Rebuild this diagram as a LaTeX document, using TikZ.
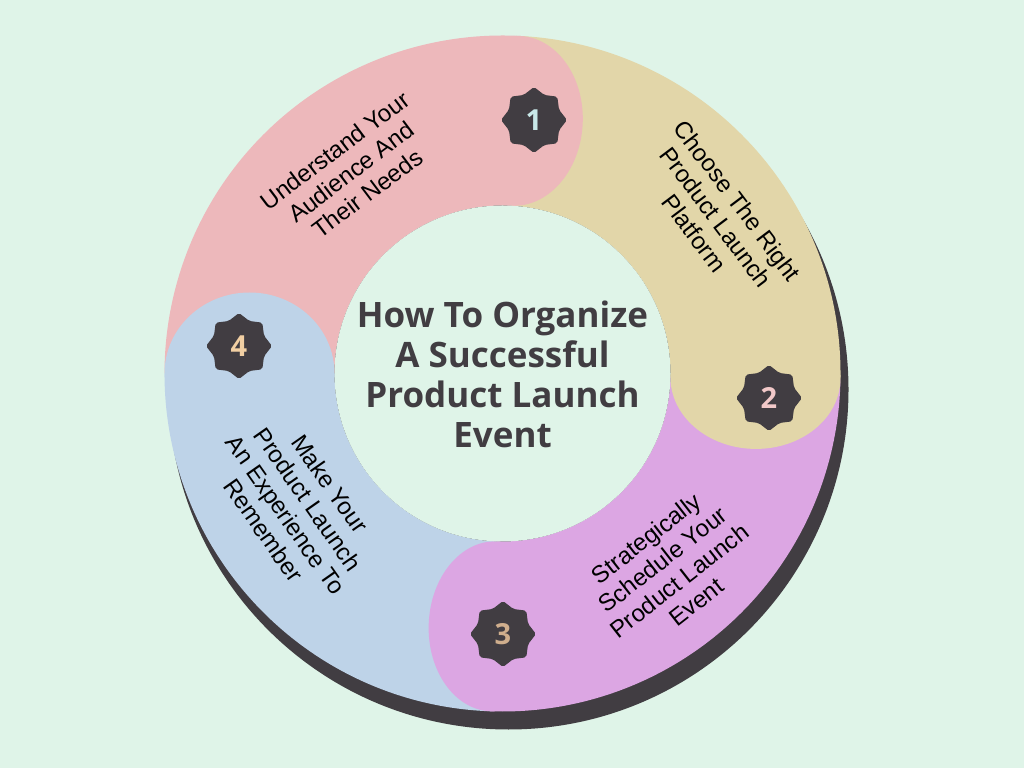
\documentclass[tikz,border=0pt]{standalone}
\usepackage{fontspec}
\setmainfont{Liberation Sans}
\newfontfamily\titlefont{Open Sans}
\usetikzlibrary{shapes.geometric}

\definecolor{bgmint}{HTML}{DFF4E8}
\definecolor{shadowgray}{HTML}{413D42}
\definecolor{pinkseg}{HTML}{EDB8BB}
\definecolor{tanseg}{HTML}{E2D6A9}
\definecolor{violetseg}{HTML}{DCA6E3}
\definecolor{blueseg}{HTML}{BED3E8}
\definecolor{numone}{HTML}{C8E8E8}
\definecolor{numtwo}{HTML}{F2C9C9}
\definecolor{numthree}{HTML}{CFAE8D}
\definecolor{numfour}{HTML}{F1CFA3}

\tikzset{
  badge/.style={star,star points=8,star point ratio=1.22,minimum size=66pt,
    inner sep=0pt,rounded corners=2pt,fill=shadowgray,
    font=\titlefont\bfseries\fontsize{29}{29}\selectfont},
  seglabel/.style={align=center,font=\fontsize{24}{27}\selectfont},
}

\begin{document}
\begin{tikzpicture}[x=1pt,y=1pt]
 		\useasboundingbox[fill=bgmint] (0,0) rectangle (1024,768);

 		\begin{scope}[shift={(502.5,394.5)}]
 		% shadow
 		\fill[shadowgray] (6,-16) circle[radius=340];

 		% bands
 		\fill[pinkseg] (87:168) arc[start angle=87,end angle=180,radius=168] -- (180:338) arc[start angle=180,end angle=87,radius=338] -- cycle;
 		\fill[tanseg] (-1:168) arc[start angle=-1,end angle=87,radius=168] -- (87:338) arc[start angle=87,end angle=-1,radius=338] -- cycle;
 		\fill[violetseg] (-92:168) arc[start angle=-92,end angle=-1,radius=168] -- (-1:338) arc[start angle=-1,end angle=-92,radius=338] -- cycle;
 		\fill[blueseg] (-180:168) arc[start angle=-180,end angle=-92,radius=168] -- (-92:338) arc[start angle=-92,end angle=-180,radius=338] -- cycle;

 		% rounded ends, reaching a little back over their own band
 		\fill[pinkseg,shift={(87:253)},rotate=87] (85,4) -- (85,0) arc[start angle=0,end angle=-180,x radius=85,y radius=67] -- (-85,4) -- cycle;
 		\fill[tanseg,shift={(-1:253)},rotate=-1] (85,4) -- (85,0) arc[start angle=0,end angle=-180,x radius=85,y radius=71] -- (-85,4) -- cycle;
 		\fill[violetseg,shift={(-92:253)},rotate=-92] (85,4) -- (85,0) arc[start angle=0,end angle=-180,x radius=85,y radius=65] -- (-85,4) -- cycle;
 		\fill[blueseg,shift={(180:253)},rotate=180] (85,4) -- (85,0) arc[start angle=0,end angle=-180,x radius=85,y radius=81] -- (-85,4) -- cycle;

 		\fill[bgmint] (0,0) circle[radius=168];
 		\end{scope}

 		\node[text=shadowgray,align=center,font=\titlefont\bfseries\fontsize{35}{40}\selectfont] (title) at (502.5,394) {How To Organize\\A Successful\\Product Launch\\Event};

 		\node[seglabel,rotate=37] (lab1) at (351,596) {Understand Your\\Audience And\\Their Needs};
 		\node[seglabel,rotate=-53] (lab2) at (716,551) {Choose The Right\\Product Launch\\Platform};
 		\node[seglabel,rotate=38] (lab3) at (671,198) {Strategically\\Schedule Your\\Product Launch\\Event};
 		\node[seglabel,rotate=-55] (lab4) at (297,261) {Make Your\\Product Launch\\An Experience To\\Remember};

 		\node[badge,text=numone] (b1) at (534,648) {1};
 		\node[badge,text=numtwo] (b2) at (769,370) {2};
 		\node[badge,text=numthree] (b3) at (503,134) {3};
 		\node[badge,text=numfour] (b4) at (239,422) {4};
 	 \end{tikzpicture}
\end{document}
